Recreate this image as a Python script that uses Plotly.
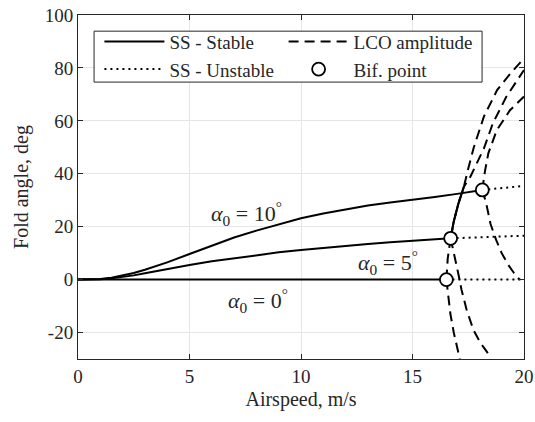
import plotly.graph_objects as go

# ---------------- data ----------------
# steady-state stable branches
ss0_x = [0, 16.52]
ss0_y = [0, 0]

ss5_x = [0, 0.5, 1, 1.5, 2, 2.5, 3, 4, 5, 6, 7, 8, 9, 10, 11, 12, 13, 14, 15, 16, 16.71]
ss5_y = [0, 0.02, 0.15, 0.5, 1.0, 1.6, 2.4, 4.0, 5.5, 6.9, 8.1, 9.2, 10.3, 11.2, 12.0, 12.8, 13.5, 14.1, 14.7, 15.3, 15.6]

ss10_x = [0, 0.5, 1, 1.5, 2, 2.5, 3, 4, 5, 6, 7, 8, 9, 10, 11, 12, 13, 14, 15, 16, 17, 18.13]
ss10_y = [0, 0.02, 0.2, 0.7, 1.5, 2.5, 3.7, 6.5, 9.7, 12.9, 15.9, 18.5, 21.0, 23.2, 25.0, 26.6, 28.0, 29.1, 30.1, 31.2, 32.4, 33.9]

# steady-state unstable branches
us0_x = [16.52, 20]
us0_y = [0, 0]
us5_x = [16.71, 20]
us5_y = [15.6, 16.6]
us10_x = [18.13, 20]
us10_y = [33.9, 35.4]

# LCO amplitude branches
lco0_up_x = [16.52, 16.58, 16.71, 16.85, 17.05, 17.3, 17.5, 17.75, 18.2, 18.8, 19.4, 20.0]
lco0_up_y = [0, 8, 15.6, 22, 28.5, 35, 42, 50, 61.6, 71.7, 78, 83.6]
lco0_dn_x = [16.52, 16.58, 16.7, 16.85, 17.0, 17.12]
lco0_dn_y = [0, -5, -13, -20, -26, -30]

lco5_up_x = [16.71, 16.85, 17.05, 17.3, 17.6, 17.9, 18.2, 18.6, 19.2, 20.0]
lco5_up_y = [15.6, 22, 28.5, 35, 39, 44, 49.5, 59, 69, 79.2]
lco5_dn_x = [16.71, 16.83, 17.05, 17.2, 17.43, 17.73, 18.05, 18.33, 18.45]
lco5_dn_y = [15.6, 11.2, 2.4, -3.9, -11.5, -19, -24, -27.2, -29]

lco10_up_x = [18.13, 18.25, 18.4, 18.78, 19.37, 19.9, 20.0]
lco10_up_y = [33.9, 41, 47.7, 56.5, 64, 68.5, 69.2]
lco10_dn_x = [18.13, 18.3, 18.5, 18.75, 19.0, 19.3, 19.55, 19.8]
lco10_dn_y = [33.9, 29, 21, 15, 10, 5.5, 2.5, 0]

# overlapping part of the two LCO branches (reads as a solid line)
lco_overlap_x = [16.71, 16.85, 17.05, 17.3]
lco_overlap_y = [15.6, 22, 28.5, 35]

# bifurcation points
bif_x = [16.52, 16.71, 18.13]
bif_y = [0, 15.6, 33.9]

# label positions / texts
lab_x = [7.55, 13.9, 8.05]
lab_y = [25.0, 6.3, -7.8]
lab_t = ["<i>α</i><sub>0</sub> = 10<sup>°</sup>", "<i>α</i><sub>0</sub> = 5<sup>°</sup>", "<i>α</i><sub>0</sub> = 0<sup>°</sup>"]

x_ticks = [0, 5, 10, 15, 20]
x_tick_text = ["0", "5", "10", "15", "20"]
y_ticks = [-20, 0, 20, 40, 60, 80, 100]
y_tick_text = ["-20", "0", "20", "40", "60", "80", "100"]

# ---------------- figure ----------------
FONT = "Liberation Serif"
TXT = "#262626"
LW = 2
DASH = "10px,6px"
DOT = "2px,4px"

fig = go.Figure()

def add(x, y, dash, name=None, legend="legend", show=False):
    fig.add_trace(go.Scatter(x=x, y=y, mode="lines",
                             line=dict(color="black", width=LW, dash=dash),
                             name=name, showlegend=show, legend=legend,
                             hoverinfo="skip"))

# stable
add(ss0_x, ss0_y, "solid", "SS - Stable", "legend", True)
add(ss5_x, ss5_y, "solid")
add(ss10_x, ss10_y, "solid")
# unstable
add(us0_x, us0_y, DOT, "SS - Unstable", "legend", True)
add(us5_x, us5_y, DOT)
add(us10_x, us10_y, DOT)
# LCO
add(lco0_up_x, lco0_up_y, DASH, "LCO amplitude", "legend2", True)
add(lco0_dn_x, lco0_dn_y, DASH)
add(lco5_up_x, lco5_up_y, DASH)
add(lco5_dn_x, lco5_dn_y, DASH)
add(lco10_up_x, lco10_up_y, DASH)
add(lco10_dn_x, lco10_dn_y, DASH)
add(lco_overlap_x, lco_overlap_y, "solid")

fig.add_trace(go.Scatter(x=bif_x, y=bif_y, mode="markers", name="Bif. point",
                         legend="legend2",
                         marker=dict(symbol="circle", size=13, color="white",
                                     line=dict(color="black", width=1.8)),
                         hoverinfo="skip"))

for x, y, t in zip(lab_x, lab_y, lab_t):
    fig.add_annotation(x=x, y=y, xref="x", yref="y", text=t, showarrow=False,
                       font=dict(family=FONT, size=22, color=TXT))

# legend frame
fig.add_shape(type="rect", xref="paper", yref="paper",
              x0=0.036, x1=0.906, y0=0.805, y1=0.953,
              line=dict(color="#262626", width=1), fillcolor="white", layer="above")

axis_common = dict(showgrid=True, gridcolor="#e6e6e6", gridwidth=1,
                   zeroline=False, showline=True, linecolor="#262626", linewidth=1,
                   mirror="ticks", ticks="inside", ticklen=5, tickcolor="#262626",
                   automargin=False,
                   tickfont=dict(family=FONT, size=19, color=TXT))

fig.update_layout(
    width=535, height=422,
    margin=dict(l=78, r=11, t=15, b=63),
    paper_bgcolor="white", plot_bgcolor="white",
    font=dict(family=FONT, color=TXT),
    xaxis=dict(range=[0, 20], tickvals=x_ticks, ticktext=x_tick_text,
               title=dict(text="Airspeed, m/s", font=dict(family=FONT, size=20, color=TXT), standoff=6),
               **axis_common),
    yaxis=dict(range=[-30, 100], tickvals=y_ticks, ticktext=y_tick_text,
               title=dict(text="Fold angle, deg", font=dict(family=FONT, size=20, color=TXT), standoff=10),
               **axis_common),
    legend=dict(x=0.048, y=0.978, xanchor="left", yanchor="top",
                bgcolor="rgba(0,0,0,0)", borderwidth=0,
                font=dict(family=FONT, size=19, color=TXT),
                tracegroupgap=0, itemwidth=60),
    legend2=dict(x=0.461, y=0.978, xanchor="left", yanchor="top",
                 bgcolor="rgba(0,0,0,0)", borderwidth=0,
                 font=dict(family=FONT, size=19, color=TXT),
                 tracegroupgap=0, itemwidth=60),
    showlegend=True,
)

fig.write_html("out.html", config={"displayModeBar": False},
               post_script="document.body.style.margin='0';")
